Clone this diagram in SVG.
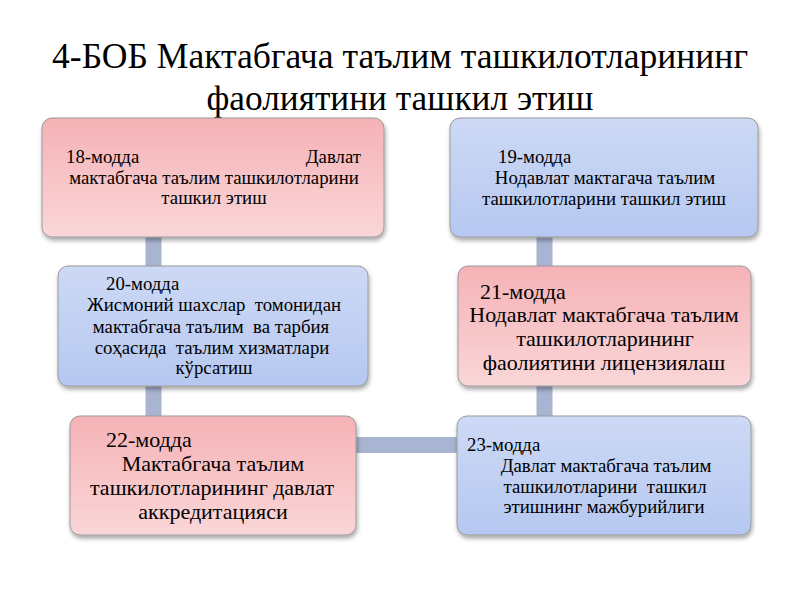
<svg xmlns="http://www.w3.org/2000/svg" width="800" height="600" viewBox="0 0 800 600">
<defs>
<linearGradient id="gPink" x1="0" y1="0" x2="0" y2="1">
<stop offset="0" stop-color="#f5b2b6"/>
<stop offset="1" stop-color="#fad6d8"/>
</linearGradient>
<linearGradient id="gBlue" x1="0" y1="0" x2="0" y2="1">
<stop offset="0" stop-color="#cdd9f5"/>
<stop offset="1" stop-color="#b6c8f1"/>
</linearGradient>
<filter id="sh" x="-10%" y="-10%" width="120%" height="130%">
<feDropShadow dx="1" dy="3" stdDeviation="2" flood-color="#000" flood-opacity="0.35"/>
</filter>
</defs>
<style>
.t{font-family:"Liberation Serif","Times New Roman",serif;fill:#000}
.title{font-size:35px}
.s{font-size:18.8px}
.m{font-size:22px}
.c{text-anchor:middle}
.box{stroke:#9a9a9a;stroke-width:1;filter:url(#sh)}
.pink{fill:url(#gPink)}
.blue{fill:url(#gBlue)}
.con{stroke:#a9b4d2;stroke-width:16;fill:none}
</style>
<rect width="800" height="600" fill="#ffffff"/>
<g id="title">
<text class="t title c" x="400" y="68" textLength="696" lengthAdjust="spacingAndGlyphs">4-БОБ Мактабгача таълим ташкилотларининг</text>
<text class="t title c" x="400" y="110" textLength="387" lengthAdjust="spacingAndGlyphs">фаолиятини ташкил этиш</text>
</g>
<g id="connectors">
<line class="con" x1="153.5" y1="236" x2="153.5" y2="417"/>
<line class="con" x1="544.5" y1="236" x2="544.5" y2="417"/>
<line class="con" x1="355" y1="445" x2="458" y2="445"/>
</g>
<g id="n18">
<rect class="box pink" x="42" y="118" width="342" height="119" rx="10"/>
<text class="t s" x="66" y="163">18-модда</text>
<text class="t s" x="361" y="163" text-anchor="end">Давлат</text>
<text class="t s c" x="214" y="184">мактабгача таълим ташкилотларини</text>
<text class="t s c" x="214" y="204">ташкил этиш</text>
</g>
<g id="n19">
<rect class="box blue" x="450" y="118" width="308" height="119" rx="10"/>
<text class="t s" x="498" y="163">19-модда</text>
<text class="t s c" x="605" y="184">Нодавлат мактагача таълим</text>
<text class="t s c" x="604" y="205">ташкилотларини ташкил этиш</text>
</g>
<g id="n20">
<rect class="box blue" x="58" y="266" width="310" height="120" rx="10"/>
<text class="t s" x="106" y="290">20-модда</text>
<text class="t s c" x="214" y="311" xml:space="preserve">Жисмоний шахслар  томонидан</text>
<text class="t s c" x="211" y="333" xml:space="preserve">мактабгача таълим  ва тарбия</text>
<text class="t s c" x="212" y="354" xml:space="preserve">соҳасида  таълим хизматлари</text>
<text class="t s c" x="214" y="374">кўрсатиш</text>
</g>
<g id="n21">
<rect class="box pink" x="458" y="266" width="293" height="120" rx="10"/>
<text class="t m" x="480" y="299">21-модда</text>
<text class="t m c" x="604" y="322">Нодавлат мактабгача таълим</text>
<text class="t m c" x="605" y="346">ташкилотларининг</text>
<text class="t m c" x="604" y="370">фаолиятини лицензиялаш</text>
</g>
<g id="n22">
<rect class="box pink" x="70" y="416" width="286" height="119" rx="10"/>
<text class="t m" x="106" y="447">22-модда</text>
<text class="t m c" x="213" y="471">Мактабгача таълим</text>
<text class="t m c" x="212" y="495">ташкилотларининг давлат</text>
<text class="t m c" x="213" y="519">аккредитацияси</text>
</g>
<g id="n23">
<rect class="box blue" x="457" y="416" width="294" height="119" rx="10"/>
<text class="t s" x="467" y="451">23-модда</text>
<text class="t s c" x="606" y="472">Давлат мактабгача таълим</text>
<text class="t s c" x="605" y="493" xml:space="preserve">ташкилотларини  ташкил</text>
<text class="t s c" x="604" y="513">этишнинг мажбурийлиги</text>
</g>
</svg>
